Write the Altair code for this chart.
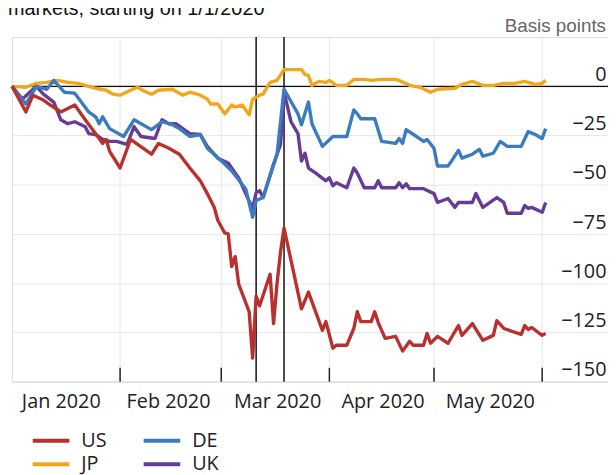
import altair as alt
import pandas as pd

# ---- data (basis points change since 1/1/2020) ----
us_dates = ["2020-01-01","2020-01-05","2020-01-07","2020-01-10","2020-01-12","2020-01-15","2020-01-19",
            "2020-01-22","2020-01-26","2020-01-27","2020-01-28","2020-01-29","2020-02-01","2020-02-04",
            "2020-02-10","2020-02-12","2020-02-15","2020-02-18","2020-02-21","2020-02-24","2020-02-26",
            "2020-02-28","2020-02-29","2020-03-02","2020-03-03","2020-03-04","2020-03-05","2020-03-06",
            "2020-03-09","2020-03-10","2020-03-11","2020-03-12","2020-03-15","2020-03-16","2020-03-17",
            "2020-03-18","2020-03-19","2020-03-24","2020-03-26","2020-03-30","2020-03-31","2020-04-02",
            "2020-04-03","2020-04-06","2020-04-08","2020-04-09","2020-04-10","2020-04-13","2020-04-14",
            "2020-04-15","2020-04-17","2020-04-20","2020-04-22","2020-04-24","2020-04-25","2020-04-28",
            "2020-04-29","2020-04-30","2020-05-02","2020-05-05","2020-05-08","2020-05-09","2020-05-12",
            "2020-05-15","2020-05-18","2020-05-19","2020-05-21","2020-05-26","2020-05-27","2020-05-28",
            "2020-05-29","2020-06-01","2020-06-02"]
us_vals = [0, -13, -4.5, -7, -9.5, -13, -9.5,
           -17, -26.5, -29, -27, -33, -41.5, -27,
           -34.5, -29, -31.5, -34.5, -41.5, -48, -54.5,
           -61.5, -68, -74.5, -75, -91.5, -86.5, -100.5,
           -114.5, -138, -106.5, -111.5, -95.5, -120.5, -100,
           -84, -72, -113, -104.5, -124, -119.5, -133,
           -131.5, -131.5, -123, -114.5, -119.5, -119.5, -114.5,
           -120, -128, -127, -134.5, -129.5, -131.5, -131.5,
           -125.5, -130.5, -127, -130.5, -121.5, -126.5, -120.5,
           -129, -126.5, -119, -123, -126, -121.5, -123.5,
           -122.5, -126.5, -125.5]

de_dates = ["2020-01-01","2020-01-05","2020-01-08","2020-01-11","2020-01-13","2020-01-16","2020-01-19",
            "2020-01-23","2020-01-25","2020-01-26","2020-01-27","2020-01-29","2020-02-02","2020-02-05",
            "2020-02-07","2020-02-10","2020-02-13","2020-02-16","2020-02-18","2020-02-21","2020-02-24",
            "2020-02-26","2020-03-02","2020-03-04","2020-03-08","2020-03-10","2020-03-11","2020-03-13",
            "2020-03-17","2020-03-19","2020-03-23","2020-03-24","2020-03-26","2020-03-27","2020-03-30",
            "2020-04-02","2020-04-06","2020-04-08","2020-04-09","2020-04-10","2020-04-14","2020-04-16",
            "2020-04-20","2020-04-21","2020-04-22","2020-04-23","2020-04-26","2020-04-28","2020-04-29",
            "2020-05-01","2020-05-02","2020-05-05","2020-05-06","2020-05-08","2020-05-09","2020-05-12",
            "2020-05-14","2020-05-15","2020-05-18","2020-05-20","2020-05-22","2020-05-26","2020-05-28",
            "2020-05-30","2020-06-01","2020-06-02"]
de_vals = [0, -9, 0, -1.5, 3, -3, -3.5,
           -13, -15.5, -19, -15.5, -21.5, -25.5, -17,
           -19, -22, -18, -19.5, -21.5, -25.5, -24.5,
           -31.5, -39.5, -43, -52, -66.5, -58, -56.5,
           -34.5, -1.5, -14, -19.5, -8, -19, -30.5,
           -25.5, -25.5, -12, -14, -16.5, -16.5, -28,
           -29, -26.5, -29, -22, -25.5, -28, -27,
           -31.5, -40.5, -40.5, -38, -32.5, -36.5, -34.5,
           -32, -35.5, -34, -28, -30.5, -30.5, -23,
           -24.5, -26.5, -21.5]

jp_dates = ["2020-01-01","2020-01-05","2020-01-08","2020-01-11","2020-01-14","2020-01-17","2020-01-20",
            "2020-01-23","2020-01-25","2020-01-28","2020-01-30","2020-02-01","2020-02-04","2020-02-06",
            "2020-02-08","2020-02-10","2020-02-12","2020-02-16","2020-02-19","2020-02-21","2020-02-24",
            "2020-02-26","2020-02-27","2020-02-29","2020-03-02","2020-03-04","2020-03-05","2020-03-07",
            "2020-03-09","2020-03-10","2020-03-12","2020-03-13","2020-03-15","2020-03-17","2020-03-19",
            "2020-03-21","2020-03-24","2020-03-25","2020-03-26","2020-03-27","2020-03-29","2020-03-31",
            "2020-04-01","2020-04-03","2020-04-06","2020-04-08","2020-04-11","2020-04-13","2020-04-16",
            "2020-04-20","2020-04-21","2020-04-24","2020-04-27","2020-04-30","2020-05-02","2020-05-07",
            "2020-05-09","2020-05-12","2020-05-15","2020-05-18","2020-05-21","2020-05-24","2020-05-27",
            "2020-05-30","2020-06-01","2020-06-02"]
jp_vals = [0, -0.5, 1.5, 2, 3, 2, 1.5,
           0, -1, -2, -4, -4.5, -2, -0.5,
           -2.5, -4, -2, -1.5, -4.5, -3, -4.5,
           -6.5, -9, -9, -14, -9.5, -10.5, -9.5,
           -14.5, -6.5, -4.5, -4, 2, 3, 8.5,
           8.5, 8.5, 6, 5.5, 0.5, 2.5, 2,
           3, 0.5, 0.5, 3.5, 3.5, 3, 3.5,
           3.5, 3, 0.5, -0.5, -3, -1.5, -1,
           1, 2.5, 0.5, 0.5, 1.5, 1.5, 2.5,
           1, 1.5, 3]

uk_dates = ["2020-01-01","2020-01-04","2020-01-08","2020-01-10","2020-01-13","2020-01-15","2020-01-17",
            "2020-01-19","2020-01-22","2020-01-23","2020-01-25","2020-01-27","2020-01-29","2020-01-31",
            "2020-02-03","2020-02-05","2020-02-07","2020-02-11","2020-02-13","2020-02-15","2020-02-17",
            "2020-02-21","2020-02-24","2020-02-26","2020-02-29","2020-03-03","2020-03-06","2020-03-08",
            "2020-03-10","2020-03-11","2020-03-12","2020-03-13","2020-03-16","2020-03-18","2020-03-19",
            "2020-03-21","2020-03-23","2020-03-24","2020-03-25","2020-03-26","2020-03-28","2020-03-31",
            "2020-04-01","2020-04-02","2020-04-03","2020-04-06","2020-04-08","2020-04-09","2020-04-11",
            "2020-04-14","2020-04-15","2020-04-16","2020-04-20","2020-04-21","2020-04-22","2020-04-23",
            "2020-04-24","2020-04-28","2020-05-01","2020-05-02","2020-05-05","2020-05-07","2020-05-08",
            "2020-05-12","2020-05-13","2020-05-15","2020-05-19","2020-05-21","2020-05-22","2020-05-26",
            "2020-05-27","2020-05-28","2020-05-29","2020-06-01","2020-06-02"]
uk_vals = [0, -6.5, 0, -4, -8, -17, -19,
           -18, -20.5, -24, -24.5, -27, -28, -28,
           -29.5, -20.5, -25.5, -26.5, -17, -19, -19,
           -24, -24.5, -30.5, -36.5, -39, -46.5, -54.5,
           -62, -54, -53, -56.5, -39.5, -29.5, -3,
           -18, -24, -38, -34, -41.5, -44, -48,
           -46.5, -50.5, -49, -51.5, -41.5, -44, -51.5,
           -51.5, -48, -51.5, -51.5, -49, -51.5, -49.5,
           -52, -52, -54.5, -59, -57, -61.5, -59,
           -59, -54.5, -61.5, -56.5, -59, -64.5, -64.5,
           -60.5, -62, -61.5, -64, -59]

# legend order (filled column by column): US, JP | DE, UK
series_names = ["US", "JP", "DE", "UK"]
series_colors = ["#b8312e", "#f2a71b", "#3b7bbf", "#673c97"]

month_starts = ["2020-02-01", "2020-03-01", "2020-04-01", "2020-05-01", "2020-06-01"]
event_dates = ["2020-03-11", "2020-03-19"]
y_ticks = [-150, -125, -100, -75, -50, -25, 0]

# ---- tables ----
rows = []
for name, d, v in [("JP", jp_dates, jp_vals), ("UK", uk_dates, uk_vals),
                   ("DE", de_dates, de_vals), ("US", us_dates, us_vals)]:
    for di, vi in zip(d, v):
        rows.append({"date": di + "T00:00:00", "value": vi, "series": name})
df = pd.DataFrame(rows)
months_df = pd.DataFrame({"date": [m + "T00:00:00" for m in month_starts]})
events_df = pd.DataFrame({"date": [e + "T00:00:00" for e in event_dates]})
zero_df = pd.DataFrame({"v": [0]})

W, H = 602, 348
x_scale = alt.Scale(domain=[alt.DateTime(year=2020, month=1, date=1),
                            alt.DateTime(year=2020, month=6, date=19, hours=21)])
y_scale = alt.Scale(domain=[-150, 25], nice=False, zero=False)

label_dates = [alt.DateTime(year=2020, month=1, date=15),
               alt.DateTime(year=2020, month=2, date=14, hours=18),
               alt.DateTime(year=2020, month=3, date=17),
               alt.DateTime(year=2020, month=4, date=16, hours=6),
               alt.DateTime(year=2020, month=5, date=17)]

lines = alt.Chart(df).mark_line(strokeWidth=3.4, strokeJoin="round").encode(
    x=alt.X("date:T", scale=x_scale, title=None,
            axis=alt.Axis(values=label_dates, format="%b %Y", grid=False, ticks=False,
                          labelFont="Open Sans", labelFontSize=20, labelColor="#222222",
                          labelPadding=10, domainColor="#dddddd", labelAlign="center")),
    y=alt.Y("value:Q", scale=y_scale, title=None,
            axis=alt.Axis(orient="right", values=y_ticks, grid=True, gridColor="#e6e6e6",
                          ticks=False, tickSize=0, domain=False, labelAlign="right",
                          labelBaseline="alphabetic", labelOffset=-6, labelPadding=-2,
                          labelFont="Open Sans", labelFontSize=20, labelColor="#222222")),
    color=alt.Color("series:N",
                    scale=alt.Scale(domain=series_names, range=series_colors),
                    legend=alt.Legend(orient="none", legendX=28, legendY=396, columns=2,
                                      title=None, symbolType="M-2,0H2", symbolSize=342,
                                      symbolStrokeWidth=4, symbolFillColor="transparent",
                                      labelFont="Open Sans", labelFontSize=20,
                                      labelColor="#222222", labelOffset=19,
                                      columnPadding=29, rowPadding=2, padding=0)),
)

grid_x = alt.Chart(months_df).mark_rule(color="#e6e6e6", strokeWidth=1).encode(
    x=alt.X("date:T", title=None))
ticks_x = alt.Chart(months_df).mark_rule(color="#222222", strokeWidth=1.5).encode(
    x=alt.X("date:T", title=None), y=alt.value(H - 14), y2=alt.value(H))
events = alt.Chart(events_df).mark_rule(color="#111111", strokeWidth=1.5).encode(
    x=alt.X("date:T", title=None))
zero = alt.Chart(zero_df).mark_rule(color="#111111", strokeWidth=1.3).encode(
    y=alt.Y("v:Q", title=None))

unit_txt = alt.Chart(pd.DataFrame({"t": ["Basis points"]})).mark_text(
    align="right", baseline="alphabetic", font="Liberation Sans", fontSize=19, color="#666666"
).encode(x=alt.value(W - 2), y=alt.value(-5), text="t:N")

title_txt = alt.Chart(pd.DataFrame({"t": ["markets, starting on 1/1/2020"]})).mark_text(
    align="left", baseline="alphabetic", font="Liberation Sans", fontSize=20, color="#111111"
).encode(x=alt.value(-4), y=alt.value(-22), text="t:N")

chart = alt.layer(grid_x, zero, events, ticks_x, lines, unit_txt, title_txt).properties(
    width=W, height=H,
    padding={"left": 4, "top": 27, "right": 0, "bottom": 100},
    autosize=alt.AutoSizeParams(type="none"),
).configure_view(stroke="#dddddd", strokeWidth=1)

chart.save("out.html", embed_options={"renderer": "svg", "actions": False})
